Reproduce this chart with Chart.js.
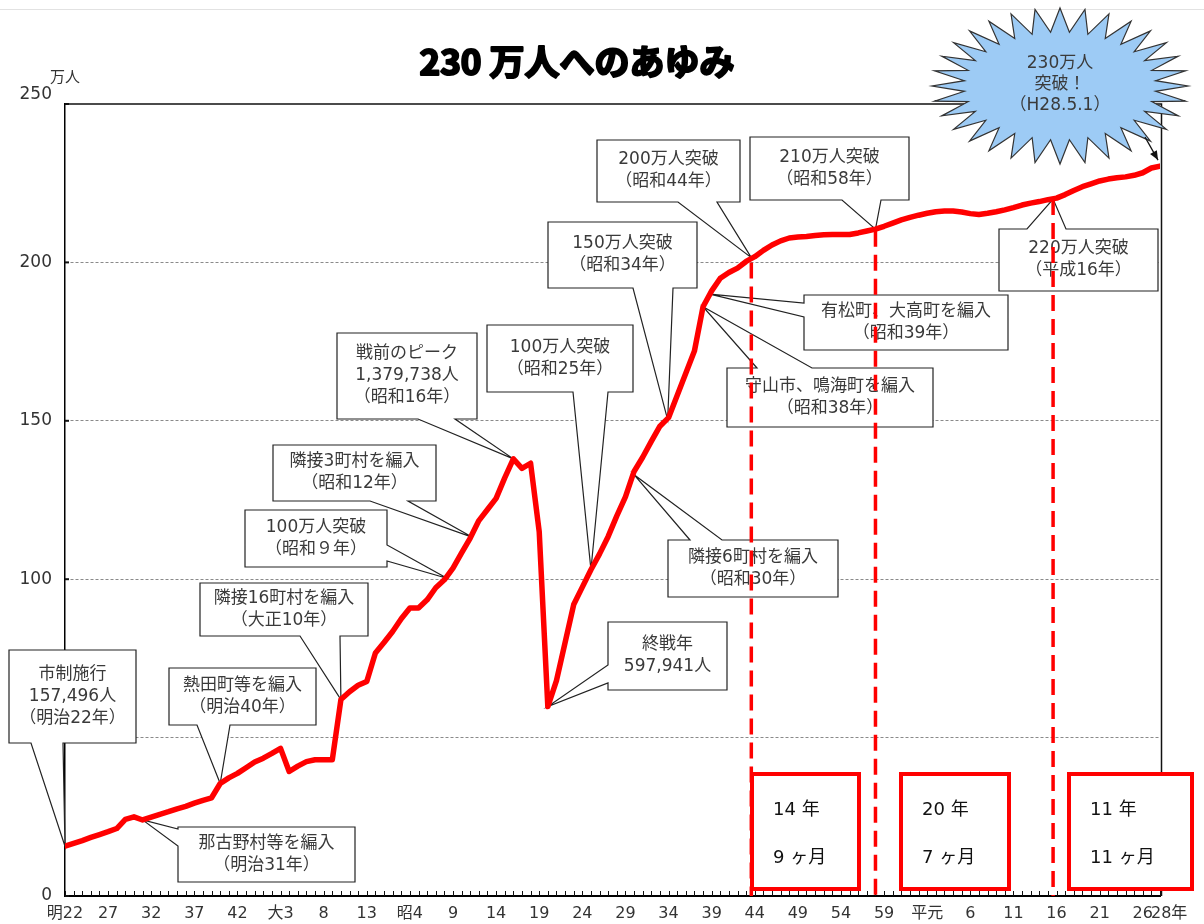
<!DOCTYPE html>
<html><head><meta charset="utf-8">
<script src="https://cdn.jsdelivr.net/npm/chart.js@4.4.1/dist/chart.umd.min.js"></script>
<style>html,body{margin:0;padding:0;background:#fff;}#wrap{width:1204px;height:924px;}</style>
</head><body><div id="wrap"><canvas id="c" width="1204" height="924"></canvas></div>
<script>
// ---- data (万人) ----
const tickYears = [1889,1894,1899,1904,1909,1914,1919,1924,1929,1934,1939,1944,1949,1954,1959,1964,1969,1974,1979,1984,1989,1994,1999,2004,2009,2014,2016];
const tickLabels = ['明22','27','32','37','42','大3','8','13','昭4','9','14','19','24','29','34','39','44','49','54','59','平元','6','11','16','21','26','28年'];
const yTicks = [0,50,100,150,200,250];
// 1889-1911 (明治22-44)
const popMeiji = [15.7,16.6,17.5,18.5,19.4,20.3,21.3,24.2,25.0,24.0,24.9,25.8,26.6,27.5,28.3,29.3,30.2,31.0,35.5,37.3,38.7,40.5,42.3];
// 1912-1925 (大正1-14)
const popTaisho = [43.5,45.0,46.6,39.3,41.0,42.4,43.0,43.0,43.0,62.0,64.5,66.5,67.7,76.7];
// 1926-1988 (昭和元-63)
const popShowa = [80.0,83.5,87.5,90.9,90.9,93.5,97.3,99.8,103.5,108.3,113.0,118.5,122.0,125.5,132.0,138.0,135.0,136.6,115.0,59.8,
  68.0,80.0,92.0,97.5,103.0,108.0,113.5,120.0,126.0,134.0,138.5,143.5,148.3,151.0,158.0,165.0,172.0,186.0,191.0,195.0,
  196.8,198.2,200.3,201.8,203.8,205.5,206.8,207.7,208.0,208.2,208.5,208.7,208.8,208.8,208.8,209.3,209.9,210.5,211.4,212.4,
  213.4,214.2,214.9];
// 1989-2016 (平成元-28)
const popHeisei = [215.5,216.0,216.2,216.2,215.9,215.4,215.1,215.5,216.0,216.6,217.3,218.1,218.7,219.2,219.8,220.3,221.4,222.7,223.9,224.8,
  225.7,226.3,226.7,227.0,227.5,228.3,229.8,230.4];
const population = [...popMeiji, ...popTaisho, ...popShowa, ...popHeisei];
const years = population.map((_, i) => 1889 + i);

// milestones (year, 万人) for the dashed red lines
const milestoneYears = [1968.6, 1983, 2003.6];
const milestoneValues = [200, 210, 220];
const spanTexts = [['14 年','9 ヶ月'],['20 年','7 ヶ月'],['11 年','11 ヶ月']];

// callouts: text + data point they point at
const calloutTexts = [
  ['市制施行','157,496人','（明治22年）'],
  ['那古野村等を編入','（明治31年）'],
  ['熱田町等を編入','（明治40年）'],
  ['隣接16町村を編入','（大正10年）'],
  ['100万人突破','（昭和９年）'],
  ['隣接3町村を編入','（昭和12年）'],
  ['戦前のピーク','1,379,738人','（昭和16年）'],
  ['100万人突破','（昭和25年）'],
  ['終戦年','597,941人'],
  ['150万人突破','（昭和34年）'],
  ['200万人突破','（昭和44年）'],
  ['210万人突破','（昭和58年）'],
  ['220万人突破','（平成16年）'],
  ['有松町、大高町を編入','（昭和39年）'],
  ['守山市、鳴海町を編入','（昭和38年）'],
  ['隣接6町村を編入','（昭和30年）']
];
const calloutTipYears = [1889,1898,1907,1921,1933.3,1936.2,1941,1950,1945,1958.9,1968.6,1983,2003.6,1963.8,1963,1955];
const calloutTipValues = [15.7,24.0,35.5,62,100.3,113.3,138,103,59.8,150.3,201.5,210.5,220,190,186,133];

// ---- layout (pixels) ----
const calloutBoxes = [
  {x:9,y:650,w:127,h:93,edge:'bottom',b:[31,63]},
  {x:178,y:827,w:177,h:55,edge:'left',b:[829,846]},
  {x:169,y:668,w:147,h:57,edge:'bottom',b:[197,230]},
  {x:200,y:583,w:168,h:53,edge:'bottom',b:[300,340]},
  {x:245,y:510,w:142,h:57,edge:'right',b:[545,561]},
  {x:273,y:445,w:163,h:56,edge:'bottom',b:[370,408]},
  {x:337,y:333,w:140,h:86,edge:'bottom',b:[418,455]},
  {x:487,y:325,w:146,h:67,edge:'bottom',b:[573,608]},
  {x:608,y:622,w:119,h:68,edge:'left',b:[665,683]},
  {x:548,y:222,w:149,h:66,edge:'bottom',b:[633,673]},
  {x:597,y:140,w:143,h:62,edge:'bottom',b:[678,717]},
  {x:750,y:137,w:159,h:63,edge:'bottom',b:[842,881]},
  {x:999,y:229,w:159,h:62,edge:'top',b:[1027,1066]},
  {x:804,y:295,w:204,h:55,edge:'left',b:[303,317]},
  {x:727,y:368,w:206,h:59,edge:'top',b:[757,812]},
  {x:668,y:540,w:170,h:57,edge:'top',b:[690,722]}
];
const spanBoxes = [{x:752,y:774,w:107,h:115},{x:901,y:774,w:108,h:115},{x:1069,y:774,w:123,h:115}];

const FONT = '"DejaVu Sans", "Noto Sans CJK JP", sans-serif';
const TXT = '#3a3a3a';

function calloutPath(ctx, c, tx, ty) {
  const x = c.x, y = c.y, r = c.x + c.w, bt = c.y + c.h, b = c.b;
  ctx.beginPath();
  ctx.moveTo(x, y);
  if (c.edge === 'top') { ctx.lineTo(b[0], y); ctx.lineTo(tx, ty); ctx.lineTo(b[1], y); }
  ctx.lineTo(r, y);
  if (c.edge === 'right') { ctx.lineTo(r, b[0]); ctx.lineTo(tx, ty); ctx.lineTo(r, b[1]); }
  ctx.lineTo(r, bt);
  if (c.edge === 'bottom') { ctx.lineTo(b[1], bt); ctx.lineTo(tx, ty); ctx.lineTo(b[0], bt); }
  ctx.lineTo(x, bt);
  if (c.edge === 'left') { ctx.lineTo(x, b[1]); ctx.lineTo(tx, ty); ctx.lineTo(x, b[0]); }
  ctx.closePath();
}

const annPlugin = {
  id: 'ann',
  beforeDatasetsDraw(chart) {
    const ctx = chart.ctx, xs = chart.scales.x, ys = chart.scales.y, a = chart.chartArea;
    ctx.save();
    // y inward ticks (under the callouts)
    ctx.strokeStyle = '#111'; ctx.lineWidth = 2;
    yTicks.forEach(v => { const y = ys.getPixelForValue(v); ctx.beginPath(); ctx.moveTo(a.left, y); ctx.lineTo(a.left + 4, y); ctx.stroke(); });
    calloutBoxes.forEach((c, i) => {
      const tx = xs.getPixelForValue(calloutTipYears[i]);
      const ty = ys.getPixelForValue(calloutTipValues[i]);
      calloutPath(ctx, c, tx, ty);
      ctx.fillStyle = '#fff'; ctx.fill();
      ctx.lineWidth = 1.2; ctx.strokeStyle = '#222'; ctx.lineJoin = 'miter'; ctx.stroke();
      const lines = calloutTexts[i];
      ctx.fillStyle = TXT; ctx.font = '17px ' + FONT;
      ctx.textAlign = 'center'; ctx.textBaseline = 'middle';
      const lh = 22, cx = c.x + c.w / 2, cy = c.y + c.h / 2;
      lines.forEach((t, k) => ctx.fillText(t, cx, cy + (k - (lines.length - 1) / 2) * lh));
    });
    ctx.restore();
  },
  afterDatasetsDraw(chart) {
    const ctx = chart.ctx, xs = chart.scales.x, ys = chart.scales.y, a = chart.chartArea;
    ctx.save();
    // page top hairline
    ctx.strokeStyle = '#e2e2e2'; ctx.lineWidth = 1;
    ctx.beginPath(); ctx.moveTo(0, 9.5); ctx.lineTo(1204, 9.5); ctx.stroke();
    // frame top & right
    ctx.strokeStyle = '#111'; ctx.lineWidth = 1.5;
    ctx.beginPath(); ctx.moveTo(a.left, a.top); ctx.lineTo(a.right + 1.5, a.top); ctx.lineTo(a.right + 1.5, a.bottom); ctx.stroke();
    // x minor ticks (every year)
    ctx.lineWidth = 1;
    years.forEach(yr => { const x = Math.round(xs.getPixelForValue(yr)) + 0.5; ctx.beginPath(); ctx.moveTo(x, a.bottom); ctx.lineTo(x, a.bottom - 5); ctx.stroke(); });
    // x labels
    ctx.fillStyle = '#333'; ctx.font = '16px ' + FONT; ctx.textBaseline = 'middle';
    tickYears.forEach((yr, i) => {
      const x = xs.getPixelForValue(yr);
      if (i === tickYears.length - 1) { ctx.textAlign = 'left'; ctx.fillText(tickLabels[i], x - 9, 914); }
      else { ctx.textAlign = 'center'; ctx.fillText(tickLabels[i], x, 914); }
    });
    // top y label + unit
    ctx.font = '17px ' + FONT; ctx.textAlign = 'right';
    ctx.fillText('250', a.left - 13, ys.getPixelForValue(250) - 9);
    ctx.font = '15px ' + FONT; ctx.textAlign = 'center';
    ctx.fillText('万人', a.left, 78);
    // span boxes
    spanBoxes.forEach((b, i) => {
      ctx.fillStyle = '#fff'; ctx.fillRect(b.x, b.y, b.w, b.h);
      ctx.strokeStyle = '#ff0000'; ctx.lineWidth = 4; ctx.strokeRect(b.x, b.y, b.w, b.h);
      ctx.fillStyle = '#111'; ctx.font = '18px ' + FONT; ctx.textAlign = 'left';
      ctx.fillText(spanTexts[i][0], b.x + 21, b.y + 36);
      ctx.fillText(spanTexts[i][1], b.x + 21, b.y + 84);
    });
    // dashed milestone lines
    ctx.strokeStyle = '#ff0000'; ctx.lineWidth = 3.5; ctx.setLineDash([16, 8]);
    milestoneYears.forEach((yr, i) => {
      const x = xs.getPixelForValue(yr), y = ys.getPixelForValue(milestoneValues[i]);
      ctx.beginPath(); ctx.moveTo(x, y); ctx.lineTo(x, a.bottom); ctx.stroke();
    });
    ctx.setLineDash([]);
    // starburst
    const cx = 1060, cy = 86, n = 32;
    ctx.beginPath();
    for (let k = 0; k < n * 2; k++) {
      const ang = -Math.PI / 2 + k * Math.PI / n;
      const rx = k % 2 === 0 ? 128 : 96, ry = k % 2 === 0 ? 78 : 54;
      const px = cx + rx * Math.cos(ang), py = cy + ry * Math.sin(ang);
      if (k === 0) ctx.moveTo(px, py); else ctx.lineTo(px, py);
    }
    ctx.closePath();
    ctx.fillStyle = '#9dcbf5'; ctx.fill();
    ctx.strokeStyle = '#333'; ctx.lineWidth = 1.2; ctx.stroke();
    ctx.fillStyle = TXT; ctx.font = '17px ' + FONT; ctx.textAlign = 'center'; ctx.textBaseline = 'middle';
    ctx.fillText('230万人', cx, 64); ctx.fillText('突破！', cx, 85); ctx.fillText('（H28.5.1）', cx, 106);
    // arrow to last point
    const ex = xs.getPixelForValue(2016) - 2, ey = ys.getPixelForValue(population[population.length - 1]) - 6;
    const sx = 1145, sy = 137;
    ctx.strokeStyle = '#111'; ctx.lineWidth = 1.3;
    ctx.beginPath(); ctx.moveTo(sx, sy); ctx.lineTo(ex, ey); ctx.stroke();
    const ang = Math.atan2(ey - sy, ex - sx);
    ctx.fillStyle = '#111';
    ctx.beginPath(); ctx.moveTo(ex, ey);
    ctx.lineTo(ex - 10 * Math.cos(ang - 0.4), ey - 10 * Math.sin(ang - 0.4));
    ctx.lineTo(ex - 10 * Math.cos(ang + 0.4), ey - 10 * Math.sin(ang + 0.4));
    ctx.closePath(); ctx.fill();
    // title
    ctx.font = 'bold 35px "Noto Sans CJK JP", sans-serif'; ctx.textAlign = 'center';
    ctx.fillStyle = '#000'; ctx.strokeStyle = '#000'; ctx.lineWidth = 2.2; ctx.lineJoin = 'round';
    ctx.strokeText('230 万人へのあゆみ', 577, 62); ctx.fillText('230 万人へのあゆみ', 577, 62);
    ctx.restore();
  }
};

new Chart(document.getElementById('c'), {
  type: 'line',
  data: {
    datasets: [{
      data: years.map((yr, i) => ({ x: yr, y: population[i] })),
      borderColor: '#ff0000', borderWidth: 5.5, pointRadius: 0, tension: 0,
      borderJoinStyle: 'round', borderCapStyle: 'round', fill: false
    }]
  },
  options: {
    responsive: false, animation: false, devicePixelRatio: 1,
    layout: { padding: { top: 104, right: 44, left: 0, bottom: 0 } },
    plugins: { legend: { display: false }, tooltip: { enabled: false }, title: { display: false } },
    scales: {
      x: {
        type: 'linear', min: 1889, max: 2016,
        afterFit: s => { s.height = 28; },
        ticks: { display: false },
        grid: { display: false },
        border: { display: true, color: '#000', width: 2 }
      },
      y: {
        type: 'linear', min: 0, max: 250,
        afterFit: s => { s.width = 65; },
        afterBuildTicks: s => { s.ticks = yTicks.map(v => ({ value: v })); },
        ticks: { padding: 13, color: '#333', font: { family: FONT, size: 17 }, callback: v => (v === 250 ? '' : String(v)) },
        grid: { drawTicks: false, lineWidth: 1, color: c => (c.tick && (c.tick.value === 0 || c.tick.value === 250)) ? 'rgba(0,0,0,0)' : '#8a8a8a' },
        border: { display: true, color: '#000', width: 1.5, dash: [3, 2] }
      }
    }
  },
  plugins: [annPlugin]
});
</script>
</body></html>
